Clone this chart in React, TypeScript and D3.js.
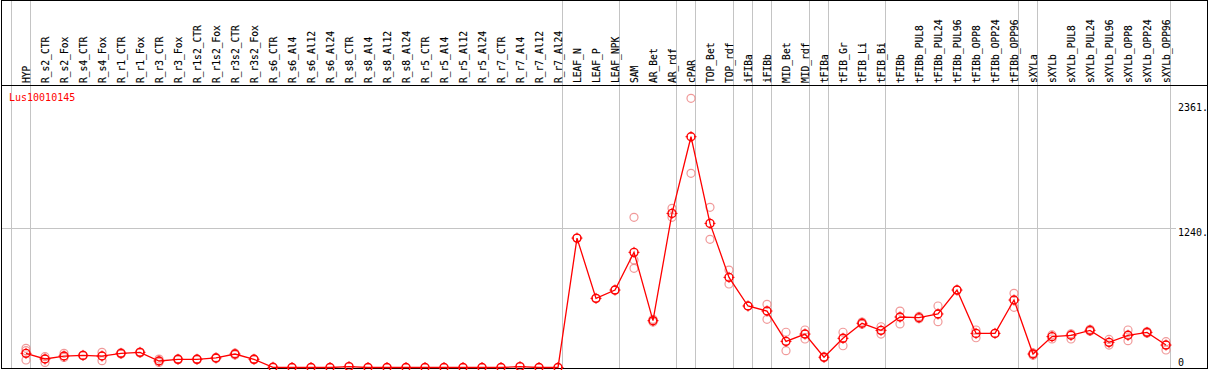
import React from "react";
import * as d3 from "d3";

const categories = [
  "HYP", "R_s2_CTR", "R_s2_Fox", "R_s4_CTR", "R_s4_Fox", "R_r1_CTR", "R_r1_Fox", "R_r3_CTR", "R_r3_Fox",
  "R_r1s2_CTR", "R_r1s2_Fox", "R_r3s2_CTR", "R_r3s2_Fox", "R_s6_CTR", "R_s6_Al4", "R_s6_Al12", "R_s6_Al24",
  "R_s8_CTR", "R_s8_Al4", "R_s8_Al12", "R_s8_Al24", "R_r5_CTR", "R_r5_Al4", "R_r5_Al12", "R_r5_Al24",
  "R_r7_CTR", "R_r7_Al4", "R_r7_Al12", "R_r7_Al24", "LEAF_N", "LEAF_P", "LEAF_NPK", "SAM", "AR_Bet", "AR_rdf",
  "cPAR", "TOP_Bet", "TOP_rdf", "iFIBa", "iFIBb", "MID_Bet", "MID_rdf", "tFIBa", "tFIB_Gr", "tFIB_Li", "tFIB_Bi",
  "tFIBb", "tFIBb_PUL8", "tFIBb_PUL24", "tFIBb_PUL96", "tFIBb_OPP8", "tFIBb_OPP24", "tFIBb_OPP96",
  "sXYLa", "sXYLb", "sXYLb_PUL8", "sXYLb_PUL24", "sXYLb_PUL96", "sXYLb_OPP8", "sXYLb_OPP24", "sXYLb_OPP96",
];

const means = [
  126, 76, 102, 108, 102, 126, 135, 58, 73, 73, 85, 120, 73, 2, 0, 0, 0, 8, 0, 0, 0, 0, 0, 0, 0, 0, 8, 0, 0,
  1153, 616, 690, 1026, 417, 1373, 2056, 1284, 803, 548, 503, 233, 298, 91, 260, 394, 331,
  450, 444, 477, 690, 304, 304, 601, 120, 275, 287, 331, 224, 287, 313, 200,
];

const replicates = [
  [171, 150, 67], [96, 45], [126, 90], [110, 105], [135, 61], [132, 120], [138, 130], [75, 45], [78, 70],
  [76, 70], [90, 80], [128, 112], [76, 70], [2], [0], [0], [0], [8], [0], [0], [0], [0], [0], [0], [0], [0], [8], [0], [0],
  [1153], [616], [690], [1338, 958, 884], [430, 405], [1418, 1338], [2398, 1730], [1427, 1142], [868, 744],
  [548], [563, 429], [314, 150], [334, 254], [95, 88], [314, 194], [405, 385], [363, 298],
  [503, 388], [455, 435], [548, 408], [690], [334, 265], [304], [661, 536],
  [130, 110], [290, 254], [300, 254], [340, 322], [250, 200], [334, 239], [320, 305], [230, 156],
];

// group separators: drawn after these category indices (-1 = before first)
const groupBreaks = [-1, 0, 28, 31, 34, 35, 37, 38, 39, 41, 42, 45, 52, 53, 60];

const yTicks = [0, 1240, 2361];
const yTickLabels = ["0", "1240.", "2361."];
const geneName = "Lus10010145";

const W = 1209;
const H = 370;
const FONT = "'DejaVu Sans Mono', monospace";

export default function App() {
  const x = d3.scalePoint<number>().domain(d3.range(categories.length)).range([26, 1166]);
  const y = d3.scaleLinear().domain([0, 2361]).range([367.5, 102.5]);
  const line = d3.line<number>().x((_, i) => x(i)!).y((d) => y(d));
  const step = x.step();

  return (
    <div style={{ position: "absolute", left: 0, top: 0 }}>
      <svg width={W} height={H} style={{ display: "block", background: "#fff" }}>
        {/* vertical separators */}
        {groupBreaks.map((k) => {
          const gx = Math.round(26 + step * k + 4.3) + 0.5;
          return <line key={"v" + k} x1={gx} x2={gx} y1={0} y2={368} stroke="#c4c4c4" strokeWidth={1} shapeRendering="crispEdges" />;
        })}
        {/* horizontal grid at 1240 */}
        <line x1={1} x2={1176} y1={Math.round(y(1240)) + 0.5} y2={Math.round(y(1240)) + 0.5} stroke="#c4c4c4" strokeWidth={1} shapeRendering="crispEdges" />

        {/* frame */}
        <rect x={1.5} y={0.5} width={1206} height={368} fill="none" stroke="#000" strokeWidth={1} shapeRendering="crispEdges" />
        <line x1={1} x2={1208} y1={85.5} y2={85.5} stroke="#000" strokeWidth={1} shapeRendering="crispEdges" />

        {/* category labels */}
        {categories.map((c, i) => (
          <text
            key={c}
            transform={`translate(${x(i)! + 3.5},83) rotate(-90)`}
            fontFamily={FONT}
            fontSize={9.6}
            fill="#000"
            stroke="#000"
            strokeWidth={0.15}
          >
            {c}
          </text>
        ))}

        <text x={9} y={101} fontFamily={FONT} fontSize={10} fill="#ff0000">{geneName}</text>

        {/* y tick labels */}
        {yTicks.map((t, i) => (
          <text key={t} x={1178} y={Math.min(y(t) + 8, 366)} fontFamily={FONT} fontSize={10} fill="#000">
            {yTickLabels[i]}
          </text>
        ))}

        {/* replicate points */}
        {replicates.map((reps, i) =>
          reps.map((v, j) => (
            <circle key={`r${i}-${j}`} cx={x(i)} cy={y(v)} r={4} fill="none" stroke="#ec8080" strokeOpacity={0.8} strokeWidth={1.2} />
          ))
        )}

        {/* mean line */}
        <path d={line(means) || ""} fill="none" stroke="#ff0000" strokeWidth={1.3} />

        {/* mean points */}
        {means.map((v, i) => {
          const cx = x(i)!;
          const cy = y(v);
          return (
            <g key={"m" + i} stroke="#ff0000" strokeWidth={1.4} fill="none">
              <circle cx={cx} cy={cy} r={4} />
              <line x1={cx} x2={cx} y1={cy - 5.5} y2={cy - 3} strokeWidth={1} />
              <line x1={cx} x2={cx} y1={cy + 3} y2={cy + 5.5} strokeWidth={1} />
              <line x1={cx - 5.5} x2={cx - 3} y1={cy} y2={cy} strokeWidth={1} />
              <line x1={cx + 3} x2={cx + 5.5} y1={cy} y2={cy} strokeWidth={1} />
            </g>
          );
        })}
      </svg>
    </div>
  );
}
